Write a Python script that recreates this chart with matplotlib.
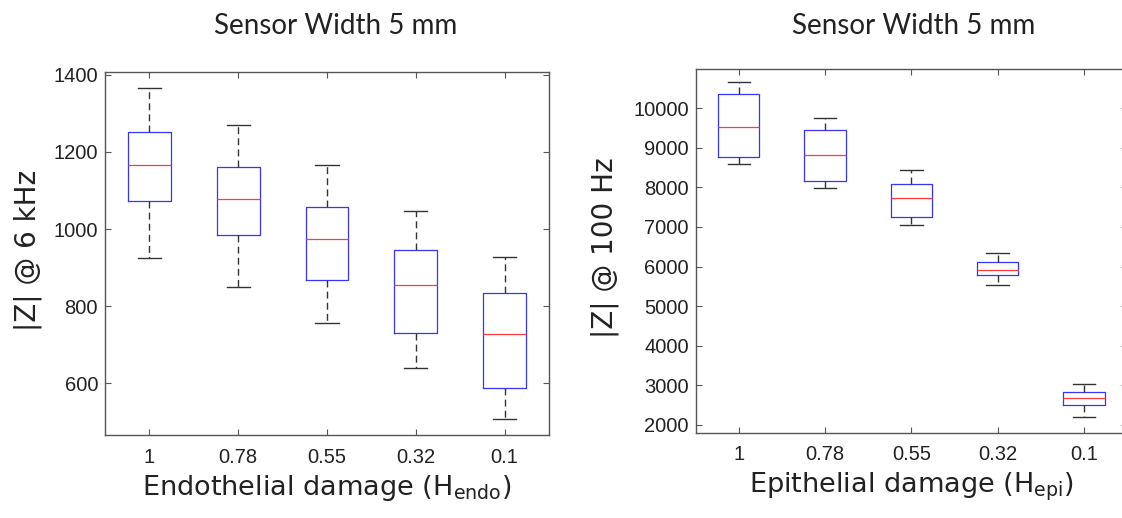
import matplotlib
matplotlib.use('Agg')
from matplotlib import pyplot as plt

#######################################################################################################################
# values
damage = ['1', '0.78', '0.55', '0.32', '0.1']

# endothelial damage, |Z| @ 6 kHz
endo_low = [924, 849, 757, 641, 507]
endo_q1 = [1073, 985, 869, 730, 587]
endo_med = [1166, 1078, 974, 854, 728]
endo_q3 = [1251, 1162, 1058, 946, 834]
endo_high = [1365, 1270, 1166, 1047, 927]

# epithelial damage, |Z| @ 100 Hz
epi_low = [8586, 7985, 7053, 5538, 2210]
epi_q1 = [8764, 8163, 7248, 5783, 2506]
epi_med = [9526, 8806, 7731, 5919, 2676]
epi_q3 = [10356, 9450, 8086, 6105, 2828]
epi_high = [10652, 9737, 8425, 6342, 3031]
#######################################################################################################################

plt.rcParams['font.family'] = ['Liberation Sans', 'DejaVu Sans']
plt.rcParams['mathtext.fontset'] = 'dejavusans'
label_font = 'DejaVu Sans'
title_font = 'Lato'


def make_stats(low, q1, med, q3, high):
    stats = []
    for i in range(len(med)):
        stats.append({'whislo': low[i], 'q1': q1[i], 'med': med[i], 'q3': q3[i], 'whishi': high[i],
                      'fliers': []})
    return stats


def draw_panel(ax, stats, ylim, yticks, ylabel, xlabel, title, title_x):
    ax.bxp(stats, positions=range(1, len(stats) + 1), widths=0.48, capwidths=0.26, showfliers=False,
           boxprops=dict(color='#3535ff', linewidth=0.9),
           medianprops=dict(color='#ff3b3b', linewidth=0.9),
           whiskerprops=dict(color='#333333', linewidth=1.0, linestyle=(0, (5, 3))),
           capprops=dict(color='#333333', linewidth=1.0))
    ax.set_xlim(0.5, 5.5)
    ax.set_ylim(*ylim)
    ax.set_yticks(yticks)
    ax.set_xticks(range(1, len(damage) + 1))
    ax.set_xticklabels(damage)
    ax.tick_params(direction='in', top=True, right=True, length=4, width=0.8, color='#555555',
                   labelsize=14.5, labelcolor='#222222')
    ax.tick_params(axis='x', pad=9)
    ax.tick_params(axis='y', pad=5)
    for sp in ax.spines.values():
        sp.set_color('#555555')
        sp.set_linewidth(1.0)
    ax.set_ylabel(ylabel, fontsize=20, color='#222222', fontfamily=label_font)
    ax.set_xlabel(xlabel, fontsize=19.5, color='#222222', fontfamily=label_font, labelpad=5)
    fig.text(title_x, 0.95, title, fontsize=20, fontfamily=title_font, color='#222222',
             ha='center', va='center')


fig = plt.figure(figsize=(11.22, 5.18), dpi=100)
ax1 = fig.add_axes([0.0936, 0.1602, 0.3957, 0.7008])
ax2 = fig.add_axes([0.620, 0.1647, 0.3844, 0.7021])

draw_panel(ax1, make_stats(endo_low, endo_q1, endo_med, endo_q3, endo_high), (466, 1407),
           [600, 800, 1000, 1200, 1400], '|Z| @ 6 kHz', 'Endothelial damage (H$_{\\rm endo}$)',
           'Sensor Width 5 mm', 336 / 1122)
draw_panel(ax2, make_stats(epi_low, epi_q1, epi_med, epi_q3, epi_high), (1806, 10985),
           list(range(2000, 10001, 1000)), '|Z| @ 100 Hz', 'Epithelial damage (H$_{\\rm epi}$)',
           'Sensor Width 5 mm', 914 / 1122)

ax1.yaxis.set_label_coords(-0.142, 0.51)
ax2.yaxis.set_label_coords(-0.178, 0.51)

fig.savefig('out.png', dpi=100)
